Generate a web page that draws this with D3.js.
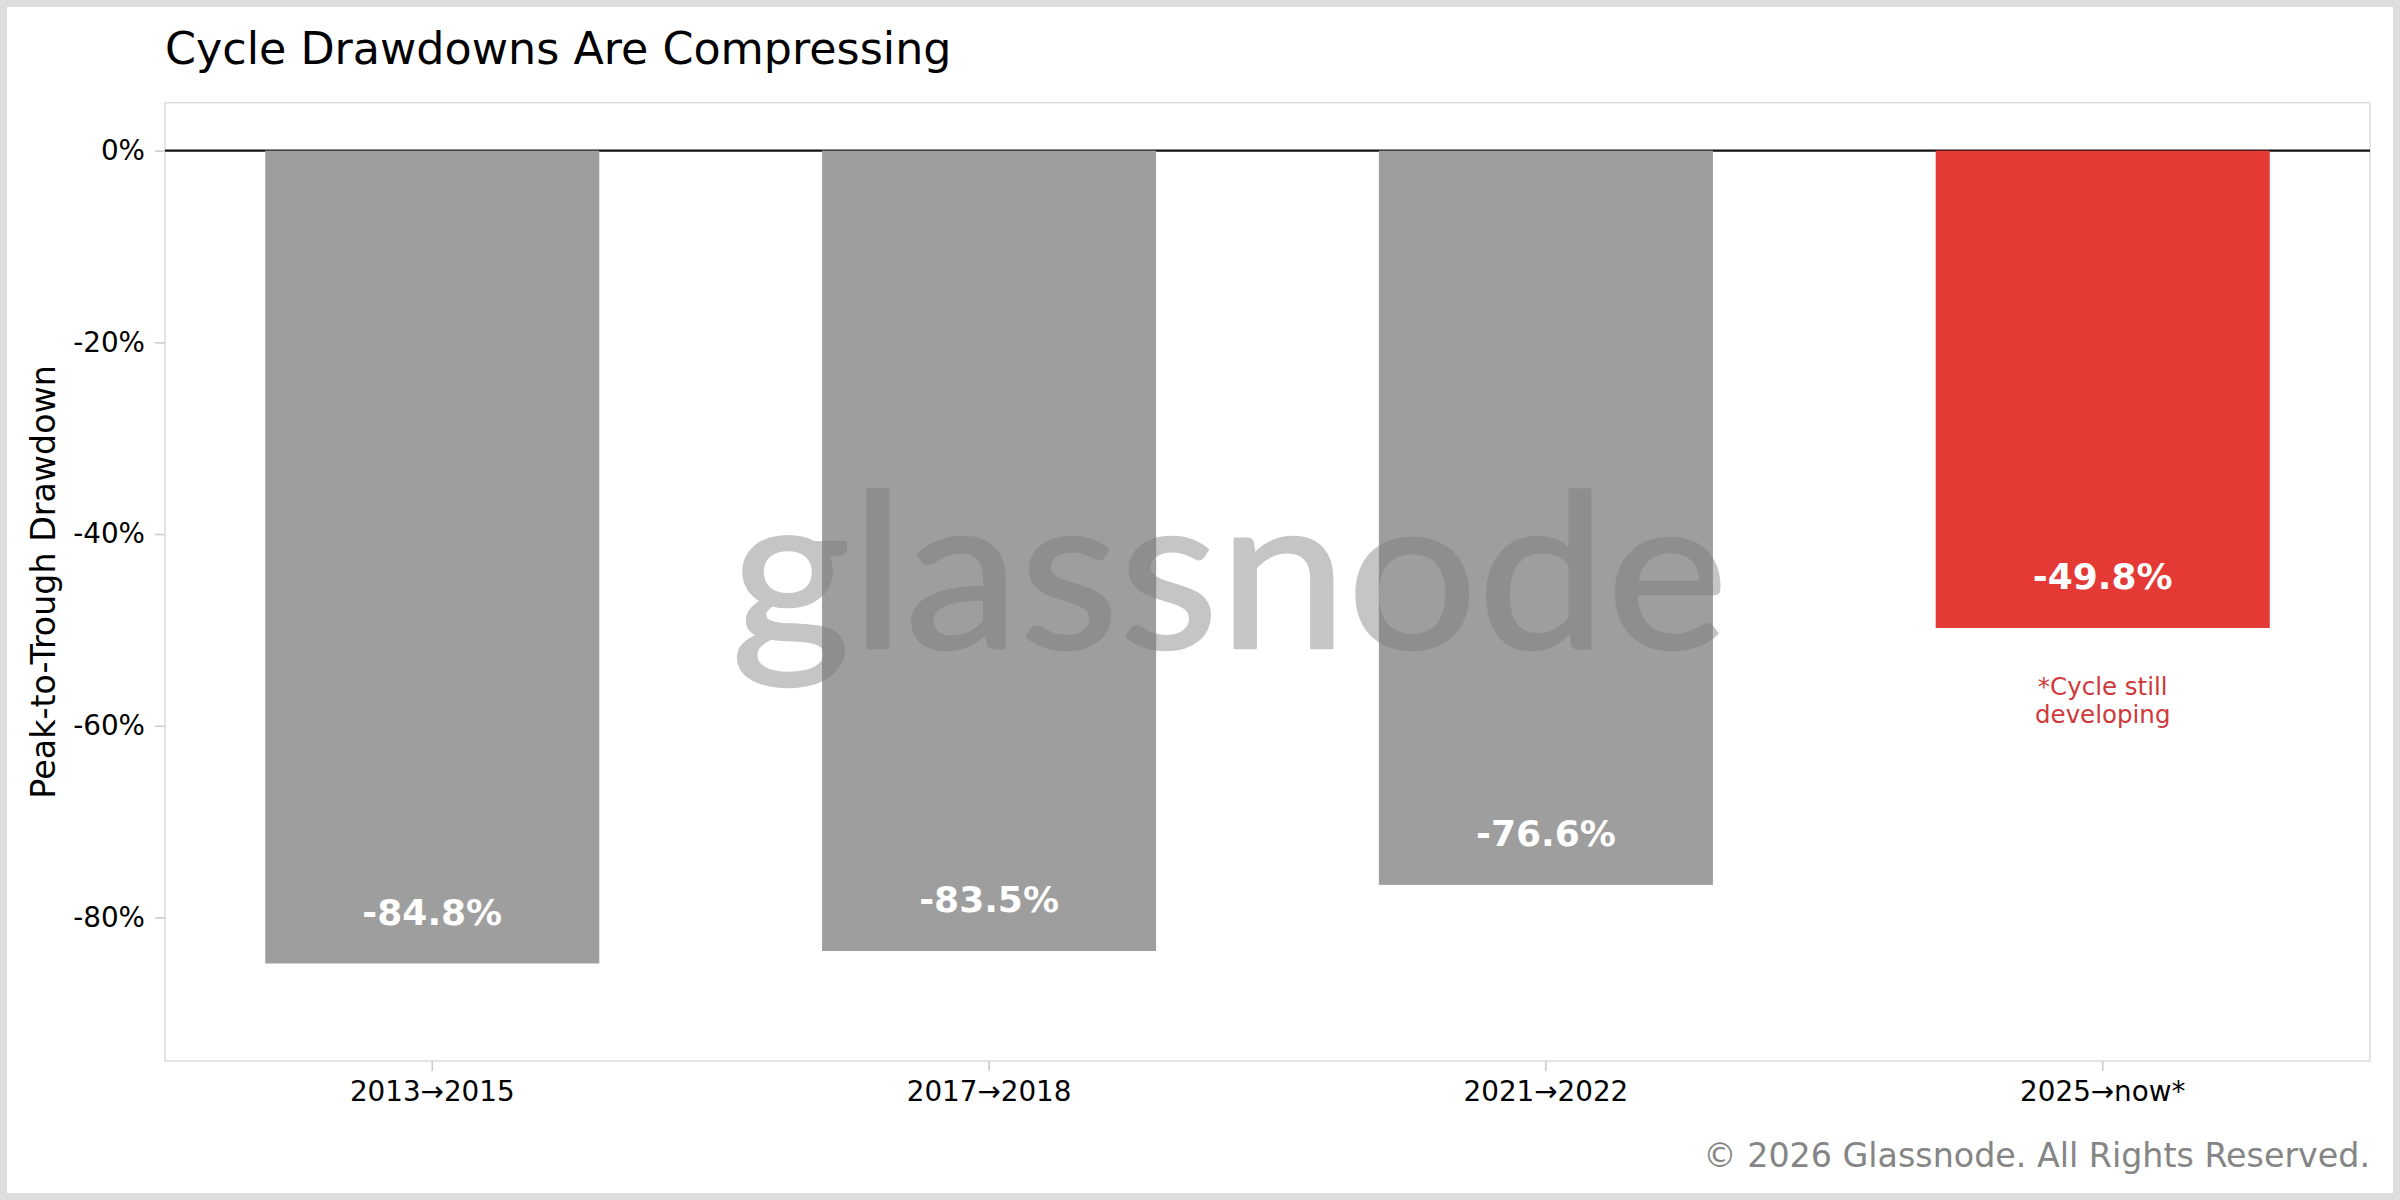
<!DOCTYPE html>
<html>
<head>
<meta charset="utf-8">
<script src="https://cdn.jsdelivr.net/npm/d3@7"></script>
<style>
  html, body { margin: 0; padding: 0; background: #dddddd; }
  svg { display: block; }
</style>
</head>
<body>
<svg id="chart" width="2400" height="1200"></svg>
<script>
// ---- data ----
const categories = ["2013\u21922015", "2017\u21922018", "2021\u21922022", "2025\u2192now*"];
const drawdowns = [-84.8, -83.5, -76.6, -49.8];
const yTickValues = [0, -20, -40, -60, -80];
const barColors = ["#9e9e9e", "#9e9e9e", "#9e9e9e", "#e53935"];
const titleText = "Cycle Drawdowns Are Compressing";
const yLabelText = "Peak-to-Trough Drawdown";
const noteLines = ["*Cycle still", "developing"];
const copyrightText = "\u00a9 2026 Glassnode. All Rights Reserved.";
const watermarkText = "glassnode";

// ---- layout ----
const W = 2400, H = 1200;
const m = { left: 165, right: 2370, top: 102.7, bottom: 1061 };
const font = "'DejaVu Sans', sans-serif";

const svg = d3.select("#chart");

// figure background with grey frame
svg.append("rect").attr("x", 0).attr("y", 0).attr("width", W).attr("height", H).attr("fill", "#dddddd");
svg.append("rect").attr("x", 7).attr("y", 7).attr("width", W - 14).attr("height", H - 14).attr("fill", "#ffffff");

const x = d3.scaleBand()
  .domain(categories)
  .range([m.left, m.right])
  .paddingInner(0.4)
  .paddingOuter(0.18);

const minVal = d3.min(drawdowns);
const y = d3.scaleLinear()
  .domain([5, minVal * 1.12])
  .range([m.top, m.bottom]);

// spines
svg.append("rect")
  .attr("x", m.left).attr("y", m.top)
  .attr("width", m.right - m.left).attr("height", m.bottom - m.top)
  .attr("fill", "none").attr("stroke", "#dddddd").attr("stroke-width", 1.6);

// zero line
svg.append("line")
  .attr("x1", m.left).attr("x2", m.right)
  .attr("y1", y(0)).attr("y2", y(0))
  .attr("stroke", "#111111").attr("stroke-width", 2.2);

// bars
svg.append("g").selectAll("rect")
  .data(drawdowns)
  .join("rect")
  .attr("x", (d, i) => x(categories[i]))
  .attr("width", x.bandwidth())
  .attr("y", d => y(0))
  .attr("height", d => y(d) - y(0))
  .attr("fill", (d, i) => barColors[i]);

// y axis
const yAxis = d3.axisLeft(y)
  .tickValues(yTickValues)
  .tickFormat(d => d + "%")
  .tickSize(10)
  .tickPadding(10);
const gy = svg.append("g").attr("transform", `translate(${m.left},0)`).call(yAxis);
gy.select(".domain").remove();
gy.selectAll(".tick line").attr("stroke", "#cccccc").attr("stroke-width", 1.6);
gy.selectAll(".tick text")
  .attr("font-family", font).attr("font-size", 27.8).attr("fill", "#000");

// x axis
const xAxis = d3.axisBottom(x).tickSize(10).tickPadding(10);
const gx = svg.append("g").attr("transform", `translate(0,${m.bottom})`).call(xAxis);
gx.select(".domain").remove();
gx.selectAll(".tick line").attr("stroke", "#cccccc").attr("stroke-width", 1.6);
gx.selectAll(".tick text")
  .attr("font-family", font).attr("font-size", 27.8).attr("fill", "#000");

// watermark
svg.append("text")
  .attr("x", 731).attr("y", 648)
  .attr("font-family", "Lato, 'Noto Sans', sans-serif")
  .attr("font-size", 216)
  .attr("textLength", 997)
  .attr("lengthAdjust", "spacingAndGlyphs")
  .attr("fill", "#7c7c7c")
  .attr("stroke", "#7c7c7c")
  .attr("stroke-width", 2.5)
  .attr("stroke-linejoin", "round")
  .attr("opacity", 0.44)
  .text(watermarkText);

// value labels
svg.append("g").selectAll("text")
  .data(drawdowns)
  .join("text")
  .attr("x", (d, i) => x(categories[i]) + x.bandwidth() / 2)
  .attr("y", d => y(d + 5.4))
  .attr("dy", "0.36em")
  .attr("text-anchor", "middle")
  .attr("font-family", font)
  .attr("font-weight", "bold")
  .attr("font-size", 36)
  .attr("fill", "#ffffff")
  .text(d => d.toFixed(1) + "%");

// note under the developing cycle
const lastIdx = drawdowns.length - 1;
const note = svg.append("text")
  .attr("text-anchor", "middle")
  .attr("font-family", font)
  .attr("font-size", 24.5)
  .attr("fill", "#d0393a");
noteLines.forEach((t, k) => {
  note.append("tspan")
    .attr("x", x(categories[lastIdx]) + x.bandwidth() / 2)
    .attr("y", y(drawdowns[lastIdx] - 7) + k * 28)
    .text(t);
});

// title
svg.append("text")
  .attr("x", m.left).attr("y", 64)
  .attr("font-family", font).attr("font-size", 44.4).attr("fill", "#000")
  .text(titleText);

// y label
svg.append("text")
  .attr("transform", `translate(55,${(m.top + m.bottom) / 2}) rotate(-90)`)
  .attr("text-anchor", "middle")
  .attr("font-family", font).attr("font-size", 33.3).attr("fill", "#000")
  .text(yLabelText);

// copyright
svg.append("text")
  .attr("x", m.right).attr("y", 1167)
  .attr("text-anchor", "end")
  .attr("font-family", font).attr("font-size", 33.3).attr("fill", "#858585")
  .text(copyrightText);
</script>
</body>
</html>
